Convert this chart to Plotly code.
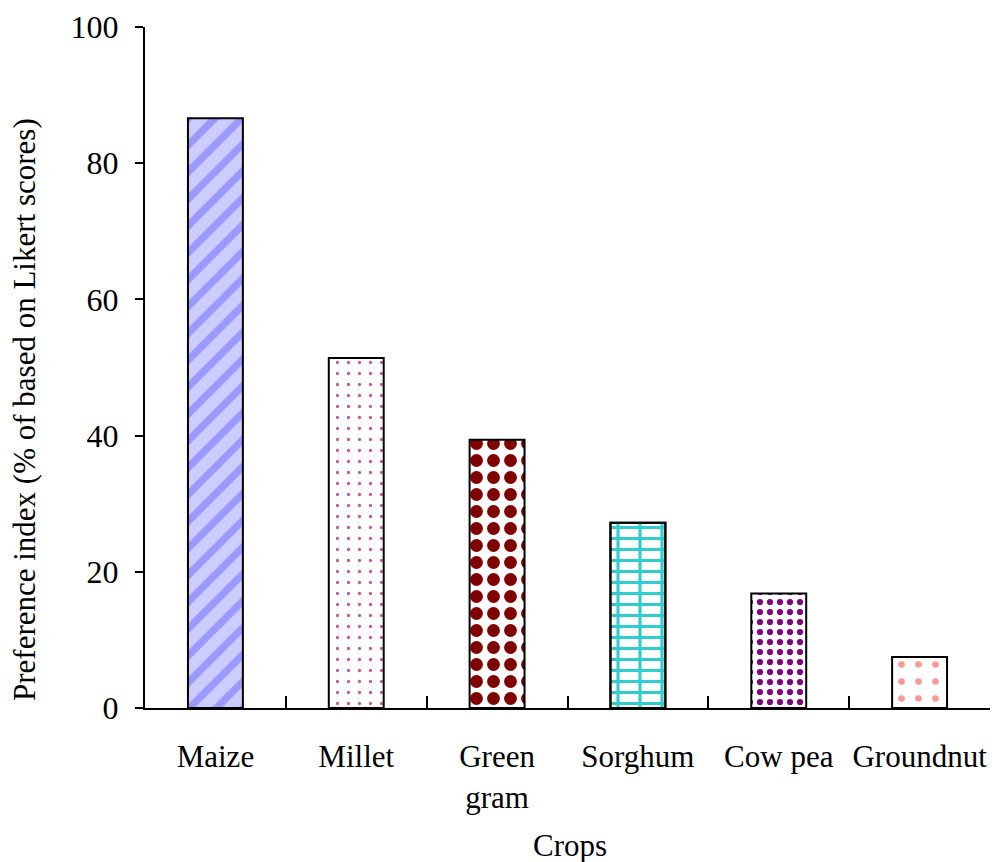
import plotly.graph_objects as go

crops = ["Maize", "Millet", "Green<br>gram", "Sorghum", "Cow pea", "Groundnut"]
preference = [86.6, 51.4, 39.4, 27.2, 16.8, 7.5]
y_ticks = [0, 20, 40, 60, 80, 100]

# fill pattern per crop: (shape, background, foreground, size, solidity)
patterns = [
    ("/", "#ccccff", "#9999ff", 19, 0.38),
    (".", "white", "#c0609a", 11, 0.07),
    (".", "white", "#800000", 17, 0.45),
    ("-", "white", "#33cccc", 11, 0.28),
    (".", "white", "#800080", 10, 0.3),
    (".", "white", "#ff9999", 17, 0.12),
]

fig = go.Figure()
for crop, val, (shape, bg, fg, size, sol) in zip(crops, preference, patterns):
    fig.add_trace(go.Bar(
        x=[crop], y=[val], width=0.39,
        marker=dict(
            color=bg,
            line=dict(color="black", width=2),
            pattern=dict(shape=shape, bgcolor=bg, fgcolor=fg, size=size,
                         solidity=sol, fillmode="replace"),
        ),
        showlegend=False,
    ))

# vertical brick joints drawn as a transparent overlay on the Sorghum bar
sorghum = crops.index("Sorghum")
fig.add_trace(go.Bar(
    x=[crops[sorghum]], y=[preference[sorghum]], width=0.39,
    marker=dict(
        color="rgba(0,0,0,0)",
        line=dict(color="black", width=2),
        pattern=dict(shape="|", fgcolor="#33cccc", fgopacity=1, size=22,
                     solidity=0.14, fillmode="overlay"),
    ),
    showlegend=False, hoverinfo="skip",
))

font = "Liberation Serif, Times New Roman, serif"
fig.update_layout(
    width=995, height=862,
    margin=dict(l=145, r=5, t=27, b=154, autoexpand=False),
    paper_bgcolor="white", plot_bgcolor="white",
    font=dict(family=font, size=31, color="black"),
    barmode="overlay",
    xaxis=dict(
        categoryorder="array", categoryarray=crops,
        range=[-0.5, 5.5], automargin=False, tickangle=0,
        showline=True, linecolor="black", linewidth=2,
        ticks="inside", tickson="boundaries", ticklen=12, tickwidth=1.5,
        tickcolor="black",
        tickfont=dict(size=31),
        ticklabelstandoff=20,
        showgrid=False, zeroline=False,
    ),
    yaxis=dict(
        range=[0, 100], tickvals=y_ticks, automargin=False,
        showline=True, linecolor="black", linewidth=2,
        ticks="outside", ticklen=8, tickwidth=1.5, tickcolor="black",
        tickfont=dict(size=32),
        ticklabelstandoff=10,
        showgrid=False, zeroline=False,
    ),
    annotations=[
        dict(text="Crops", xref="paper", yref="paper", x=0.503, y=-0.2012,
             xanchor="center", yanchor="middle", showarrow=False,
             font=dict(size=31)),
        dict(text="Preference index (% of based on Likert scores)",
             xref="paper", yref="paper", x=-0.142, y=0.4376, textangle=-90,
             xanchor="center", yanchor="middle", showarrow=False,
             font=dict(size=31)),
    ],
)

fig.write_html("out.html")
